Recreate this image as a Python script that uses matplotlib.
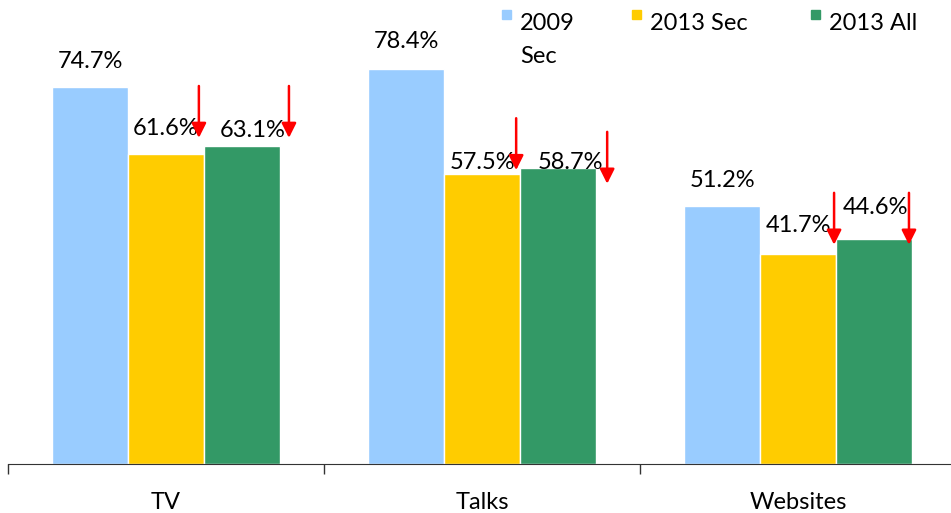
import numpy as np
from matplotlib import pyplot as plt
from matplotlib.patches import Rectangle

categories = ['TV', 'Talks', 'Websites']
series = ['2009\nSec', '2013 Sec', '2013 All']
values = [
    [74.7, 78.4, 51.2],   # 2009 Sec
    [61.6, 57.5, 41.7],   # 2013 Sec
    [63.1, 58.7, 44.6],   # 2013 All
]
colors = ['#99CCFF', '#FFCC00', '#339966']

# label nudges (pixels): dx, gap above bar top, per series / category
label_dx = [[0, 0, 0], [0, 0, 0], [11, 13, 2]]
label_gap = [[26, 27, 25], [25, 12, 28], [15, 6, 32]]

# red "decline" arrows: x position and tip height in data units
arrow_x = [0.104, 0.389, 1.108, 1.396, 2.114, 2.351]
arrow_tip = [64.7, 64.7, 58.3, 55.6, 43.5, 43.5]
arrow_len = 10.3

plt.rcParams['font.family'] = ['Lato', 'DejaVu Sans']
fs = 17

fig = plt.figure(figsize=(9.51, 5.13), dpi=100)
ax = fig.add_axes([8 / 951, 49 / 513, 943 / 951, 464 / 513])

x = np.arange(len(categories))
width = 0.24
for i, (name, vals) in enumerate(zip(series, values)):
    pos = x + (i - 1) * width
    ax.bar(pos, vals, width, color=colors[i], edgecolor='white', linewidth=1)
    for j, v in enumerate(vals):
        ax.annotate(f'{v}%', xy=(pos[j], v),
                    xytext=(label_dx[i][j] * 0.72, label_gap[i][j] * 0.72),
                    textcoords='offset points', ha='center', va='center',
                    fontsize=fs)

for ax_x, tip in zip(arrow_x, arrow_tip):
    ax.annotate('', xy=(ax_x, tip), xytext=(ax_x, tip + arrow_len),
                arrowprops=dict(arrowstyle='-|>', color='red', lw=1.8,
                                mutation_scale=22, shrinkA=0, shrinkB=0))

ax.set_xlim(-0.5, 2.484)
ax.set_ylim(0, 92.06)

for s in ['top', 'right', 'left']:
    ax.spines[s].set_visible(False)
ax.spines['bottom'].set_color('#333333')
ax.set_yticks([])

ax.set_xticks([-0.5, 0.5, 1.5])
ax.set_xticklabels([])
ax.tick_params(axis='x', which='major', length=7, color='#333333', width=1)
ax.set_xticks(x, minor=True)
ax.set_xticklabels(categories, minor=True)
ax.tick_params(axis='x', which='minor', length=0, pad=20, labelsize=fs)

# legend drawn by hand so the wrapped label keeps its square at the top line
leg_sq = [502, 632, 811]
for i, name in enumerate(series):
    fig.add_artist(Rectangle((leg_sq[i] / 951, 1 - 19 / 513), 9 / 951, 9 / 513,
                             transform=fig.transFigure, color=colors[i]))
    fig.text((leg_sq[i] + 18) / 951, 1 - 13 / 513, name, ha='left', va='top',
             fontsize=fs, linespacing=1.7)

fig.savefig('out.png', dpi=100)
